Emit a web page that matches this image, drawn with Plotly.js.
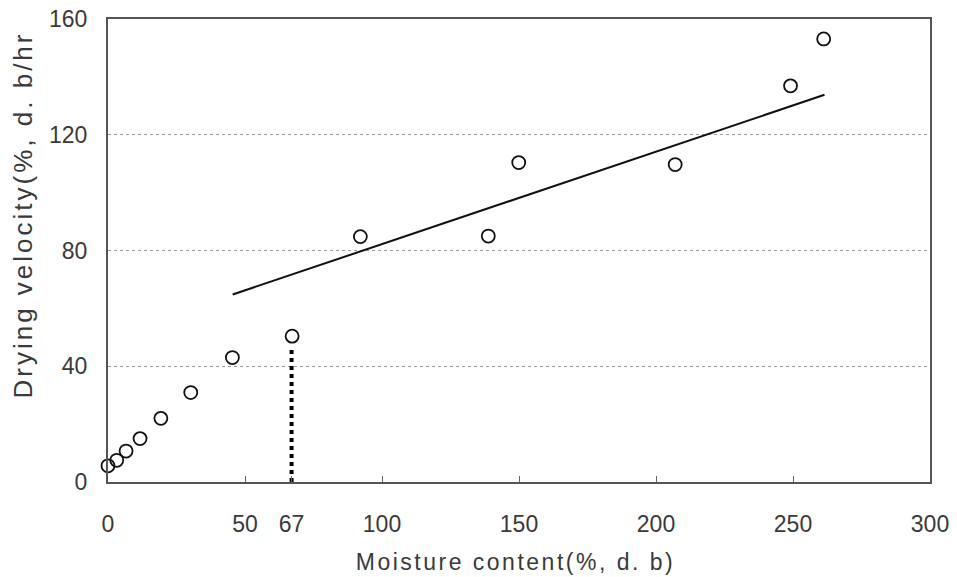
<!DOCTYPE html>
<html>
<head>
<meta charset="utf-8">
<script src="https://cdn.plot.ly/plotly-3.0.1.min.js"></script>
<style>
html,body{margin:0;padding:0;background:#fff;}
#chart{width:957px;height:577px;}
</style>
</head>
<body>
<div id="chart"></div>
<script>
const moisture = [0, 3.2, 6.6, 11.7, 19.3, 30.2, 45.4, 67.2, 92.1, 138.8, 149.9, 207, 249.1, 261.2];
const velocity = [5.6, 7.5, 10.7, 15.0, 22.0, 30.9, 43.0, 50.4, 84.8, 85.0, 110.4, 109.7, 136.9, 153.1];
const fitX = [45.5, 261.5];
const fitY = [64.8, 133.8];
const criticalX = [67, 67];
const criticalY = [0, 46];
const xTickVals = [0, 50, 67, 100, 150, 200, 250, 300];
const xTickText = ['0', '50', '67', '100', '150', '200', '250', '300'];
const yTickVals = [0, 40, 80, 120, 160];
const xTitle = 'Moisture content(%, d. b)';
const yTitle = 'Drying velocity(%, d. b/hr';

const tickFont = {family: 'Liberation Sans, Arial, sans-serif', size: 23, color: '#3a3a3a'};
const xTitleFont = {family: 'Liberation Sans, Arial, sans-serif', size: 23, color: '#3a3a3a'};
const yTitleFont = {family: 'Liberation Sans, Arial, sans-serif', size: 26, color: '#3a3a3a'};

const traces = [
  {x: fitX, y: fitY, mode: 'lines', line: {color: '#111', width: 2}, hoverinfo: 'skip'},
  {x: criticalX, y: criticalY, mode: 'lines', line: {color: '#000', width: 4, dash: 'dot'}, hoverinfo: 'skip'},
  {x: moisture, y: velocity, mode: 'markers', cliponaxis: false,
   marker: {symbol: 'circle-open', size: 13, color: '#111', line: {width: 1.8, color: '#111'}}}
];

const layout = {
  width: 957, height: 577,
  margin: {l: 108, r: 27, t: 19, b: 95},
  showlegend: false,
  paper_bgcolor: '#fff', plot_bgcolor: '#fff',
  font: tickFont,
  xaxis: {
    range: [0, 300], tickvals: xTickVals, ticktext: xTickText,
    ticks: 'inside', ticklen: 6, tickcolor: '#666', tickwidth: 1,
    ticklabelstandoff: 20,
    showgrid: false, zeroline: false,
    showline: true, linecolor: '#555', linewidth: 2, mirror: true,
    tickfont: tickFont
  },
  yaxis: {
    range: [0, 160], tickvals: yTickVals,
    ticks: '', ticklabelstandoff: 14,
    showgrid: true, gridcolor: '#9a9a9a', griddash: 'dot', gridwidth: 1,
    zeroline: false,
    showline: true, linecolor: '#555', linewidth: 2, mirror: true,
    tickfont: tickFont
  },
  annotations: [
    {text: xTitle, xref: 'paper', yref: 'paper', x: 0.496, y: -0.173,
     xanchor: 'center', yanchor: 'middle', showarrow: false, font: xTitleFont},
    {text: yTitle, xref: 'paper', yref: 'paper', x: -0.1034, y: 0.5756,
     xanchor: 'center', yanchor: 'middle', textangle: -90, showarrow: false, font: yTitleFont}
  ]
};

Plotly.newPlot('chart', traces, layout, {displayModeBar: false, staticPlot: true}).then(function () {
  const texts = document.querySelectorAll('.annotation-text');
  texts.forEach(function (t, i) {
    t.style.letterSpacing = (i === 0 ? '2.5px' : '3px');
  });
});
</script>
</body>
</html>
